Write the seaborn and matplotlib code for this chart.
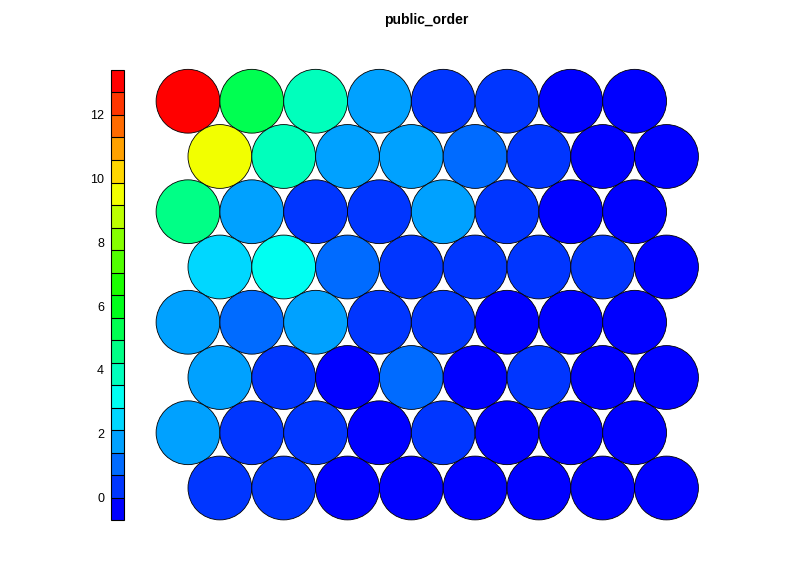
import numpy as np
import pandas as pd
import matplotlib
matplotlib.use("Agg")
import matplotlib.pyplot as plt
import matplotlib.colors as mcolors
import seaborn as sns

# SOM property values, rows listed from top row of the map to bottom row
row8 = [13.38, 5.3, 4.0, 1.8, 0.4, 0.3, -0.3, -0.45]
row7 = [9.5, 3.9, 1.7, 1.9, 1.1, 0.45, -0.2, -0.35]
row6 = [4.6, 1.75, 0.3, 0.35, 1.85, 0.4, -0.4, -0.5]
row5 = [2.5, 3.2, 1.0, 0.25, 0.3, 0.35, 0.55, -0.3]
row4 = [2.0, 1.2, 1.8, 0.2, 0.5, -0.4, -0.5, -0.35]
row3 = [1.65, 0.3, -0.5, 1.0, -0.45, 0.4, -0.3, -0.6]
row2 = [1.9, 0.25, 0.35, -0.55, 0.3, -0.5, -0.4, -0.45]
row1 = [0.3, 0.4, -0.6, -0.5, -0.69, -0.55, -0.4, -0.5]
rows_top_down = [row8, row7, row6, row5, row4, row3, row2, row1]
title = "public_order"
cbar_ticks = [0, 2, 4, 6, 8, 10, 12]
n_colors = 20

sns.set_style("white")
plt.rcParams["font.family"] = ["Liberation Sans", "DejaVu Sans"]
plt.rcParams["text.color"] = "black"
plt.rcParams["ytick.color"] = "black"
plt.rcParams["ytick.labelcolor"] = "black"

# rainbow palette (blue -> red), like R's rev(rainbow(n, end=4/6))
hues = np.linspace(0, 4 / 6, n_colors)[::-1]
pal = [mcolors.hsv_to_rgb((h, 1, 1)) for h in hues]
cmap = mcolors.ListedColormap(pal)

# build grid table
recs = []
nrow = len(rows_top_down)
for k, vals in enumerate(rows_top_down):
    r = nrow - 1 - k  # 0 = bottom row
    shift = 0.5 if r % 2 == 0 else 0.0
    for c, v in enumerate(vals):
        recs.append({"x": c + shift, "y": r * np.sqrt(3) / 2, "value": v})
df = pd.DataFrame(recs)
vmin, vmax = df["value"].min(), df["value"].max()
breaks = np.linspace(vmin, vmax, n_colors + 1)
df["bin"] = np.clip(np.digitize(df["value"], breaks) - 1, 0, n_colors - 1)
palette = {i: pal[i] for i in range(n_colors)}

W, H = 796, 562
fig = plt.figure(figsize=(W / 100, H / 100), dpi=100)

ppu = 63.8  # pixels per data unit
x0, x1 = -0.6, 8.1
y0, y1 = -0.6, (nrow - 1) * np.sqrt(3) / 2 + 0.6
left_px = 188 - (0 - x0) * ppu
bottom_px = 488 + (0 - y0) * ppu
ax = fig.add_axes([left_px / W, 1 - bottom_px / H, (x1 - x0) * ppu / W, (y1 - y0) * ppu / H])
diam_pt = ppu * 72 / 100
sns.scatterplot(data=df, x="x", y="y", hue="bin", palette=palette, s=diam_pt ** 2,
                edgecolor="black", linewidth=0.6, legend=False, ax=ax, marker="o")
ax.set_xlim(x0, x1)
ax.set_ylim(y0, y1)
ax.set_axis_off()

fig.text(426 / W, 1 - 20 / H, title, ha="center", va="center",
         fontsize=10, fontweight="bold", color="black")

# colour key
cax = fig.add_axes([111 / W, 1 - 520 / H, 13 / W, 450 / H])
norm = mcolors.BoundaryNorm(breaks, cmap.N)
sm = matplotlib.cm.ScalarMappable(norm=norm, cmap=cmap)
cb = fig.colorbar(sm, cax=cax, drawedges=True, ticks=cbar_ticks)
cb.outline.set_edgecolor("black")
cb.outline.set_linewidth(0.8)
cb.dividers.set_color("black")
cb.dividers.set_linewidth(0.8)
cax.minorticks_off()
cax.yaxis.set_ticks_position("left")
cax.yaxis.set_label_position("left")
cax.tick_params(axis="y", which="both", length=0, pad=5, labelsize=9, labelcolor="black")
cax.set_yticklabels([str(t) for t in cbar_ticks])

fig.savefig("out.png", dpi=100)
